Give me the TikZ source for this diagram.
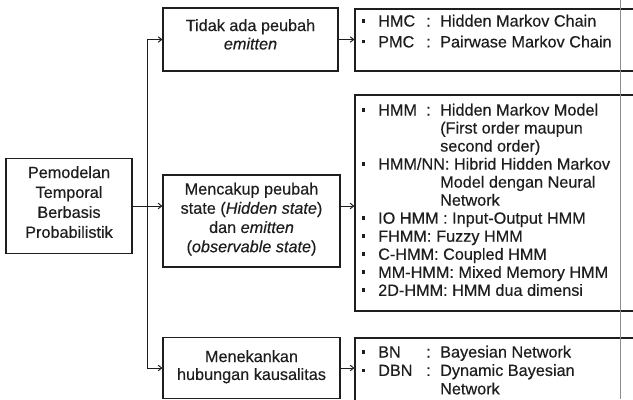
\documentclass[tikz,border=0pt]{standalone}
\usepackage{fontspec}
\setmainfont{Liberation Sans}[FakeBold=0.35]
\usetikzlibrary{arrows.meta}
\definecolor{ink}{HTML}{1E1E1E}
\definecolor{fold}{HTML}{8C8C8C}
% list helpers: square bullet, aligned abbreviation/colon columns, hanging continuation
\newcommand\lstbullet{\makebox[16bp][l]{\rule[4bp]{2.8bp}{3.4bp}}}
\newcommand\lstitem[2]{\lstbullet\makebox[48bp][l]{#1}\makebox[14bp][l]{:}#2}
\newcommand\lstfree[1]{\lstbullet#1}
\newcommand\lstcont[1]{\hspace*{78bp}#1}
\begin{document}
\begin{tikzpicture}[x=1bp,y=-1bp,
  box/.style={draw=ink,line width=1.1bp,inner sep=0pt},
  txt/.style={inner sep=0pt,text=ink},
  link/.style={draw=ink,line width=1bp,-{Straight Barb[length=3.5bp,width=5.5bp]}}]
\useasboundingbox (0,0) rectangle (633,399);
\clip (0,0) rectangle (633,399);
\fill[white] (0,0) rectangle (633,399);

% boxes
\node[box,minimum width=126bp,minimum height=95bp] (root) at (69,206) {};
\node[box,minimum width=175bp,minimum height=63bp] (A) at (250.5,39.5) {};
\node[box,minimum width=177bp,minimum height=92bp] (B) at (251.5,221) {};
\node[box,minimum width=177bp,minimum height=61bp] (C) at (251.5,368) {};
\node[box,minimum width=305bp,minimum height=62bp] (RA) at (507.5,40) {};
\node[box,minimum width=305bp,minimum height=216bp] (RB) at (507.5,203) {};
\node[box,minimum width=305bp,minimum height=82bp] (RC) at (507.5,379) {};

% texts
\node[txt,anchor=base,font=\fontsize{16.3}{20}\selectfont] (rootT) at (69,178)
  {\begin{tabular}[t]{@{}c@{}}Pemodelan\\Temporal\\Berbasis\\Probabilistik\end{tabular}};
\node[txt,anchor=base,font=\fontsize{16.3}{18.5}\selectfont] (AT) at (250.5,31)
  {\begin{tabular}[t]{@{}c@{}}Tidak ada peubah\\\textit{emitten}\end{tabular}};
\node[txt,anchor=base,font=\fontsize{16.3}{19.3}\selectfont] (BT) at (251.5,194.5)
  {\begin{tabular}[t]{@{}c@{}}Mencakup peubah\\state (\textit{Hidden state})\\dan \textit{emitten}\\(\textit{observable state})\end{tabular}};
\node[txt,anchor=base,font=\fontsize{16.3}{18}\selectfont] (CT) at (251.5,362)
  {\begin{tabular}[t]{@{}c@{}}Menekankan\\hubungan kausalitas\end{tabular}};

\node[txt,anchor=base west,font=\fontsize{16.3}{21}\selectfont] (RAT) at (362,26.5)
  {\begin{tabular}[t]{@{}l@{}}\lstitem{HMC}{Hidden Markov Chain}\\\lstitem{PMC}{Pairwase Markov Chain}\end{tabular}};
\node[txt,anchor=base west,font=\fontsize{16.3}{18.1}\selectfont] (RBT) at (362,115.5)
  {\begin{tabular}[t]{@{}l@{}}\lstitem{HMM}{Hidden Markov Model}\\
   \lstcont{(First order maupun}\\
   \lstcont{second order)}\\
   \lstfree{HMM/NN: Hibrid Hidden Markov}\\
   \lstcont{Model dengan Neural}\\
   \lstcont{Network}\\
   \lstfree{IO HMM : Input-Output HMM}\\
   \lstfree{\makebox[58bp][l]{FHMM:}Fuzzy HMM}\\
   \lstfree{C-HMM: Coupled HMM}\\
   \lstfree{MM-HMM: Mixed Memory HMM}\\
   \lstfree{2D-HMM: HMM dua dimensi}\end{tabular}};
\node[txt,anchor=base west,font=\fontsize{16.3}{18.5}\selectfont] (RCT) at (362,357.5)
  {\begin{tabular}[t]{@{}l@{}}\lstitem{BN}{Bayesian Network}\\\lstitem{DBN}{Dynamic Bayesian}\\\lstcont{Network}\end{tabular}};

% connectors
\coordinate (j) at (147,206);
\draw[link] (root.east |- j) -- (B.west |- j);
\draw[link] (j) |- (A.west);
\draw[link] (j) |- (C.west);
\draw[link] (A.east) -- (A.east -| RA.west);
\draw[link] (B.east |- j) -- (RB.west |- j);
\draw[link] (C.east) -- (C.east -| RC.west);

% page fold line
\draw[fold,line width=0.8bp] (620,0) -- (620,399);
\end{tikzpicture}
\end{document}
